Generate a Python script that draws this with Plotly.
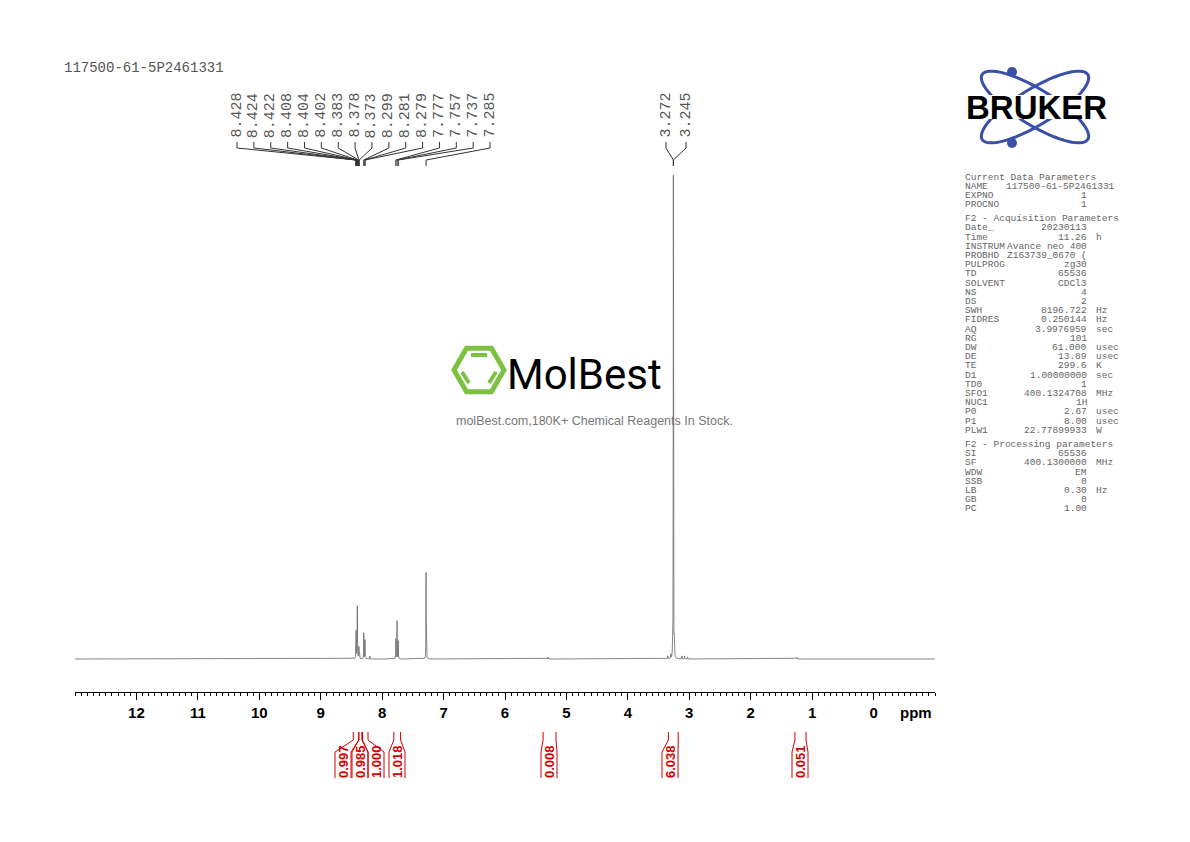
import numpy as np
import plotly.graph_objects as go

W, H = 1190, 842
title_text = "117500-61-5P2461331"

# spectrum lines: ppm and height (pixel-ish intensity units)
line_ppm = [8.428, 8.424, 8.422, 8.408, 8.404, 8.402, 8.383, 8.378, 8.373,
            8.299, 8.281, 8.279, 8.20, 7.777, 7.757, 7.737, 7.285,
            5.30, 3.35, 3.30, 3.272, 3.259, 3.245, 3.12, 3.08, 3.03, 1.25]
line_h = [14, 16, 16, 20, 36, 24, 8, 10, 7,
          26, 12, 12, 3, 20, 38, 18, 87,
          2, 3, 4, 14, 486, 16, 3, 3, 2, 2]
line_w = [0.002]*len(line_ppm)

peak_labels = ["8.428", "8.424", "8.422", "8.408", "8.404", "8.402", "8.383", "8.378",
               "8.373", "8.299", "8.281", "8.279", "7.777", "7.757", "7.737", "7.285"]
peak_labels2 = ["3.272", "3.245"]

integ_start = [8.47, 8.38, 8.32, 7.81, 5.38, 3.34, 1.28]
integ_end = [8.38, 8.33, 8.23, 7.70, 5.17, 3.18, 1.10]
integ_vals = ["0.997", "0.985", "1.000", "1.018", "0.008", "6.038", "0.051"]
integ_label_px = [343, 360, 376, 397, 549, 670, 800]

x_ticks = [12, 11, 10, 9, 8, 7, 6, 5, 4, 3, 2, 1, 0]

params = [
    ("Current Data Parameters", "", ""),
    ("NAME", "117500-61-5P2461331", ""),
    ("EXPNO", "1", ""),
    ("PROCNO", "1", ""),
    None,
    ("F2 - Acquisition Parameters", "", ""),
    ("Date_", "20230113", ""),
    ("Time", "11.26", "h"),
    ("INSTRUM", "Avance neo 400", ""),
    ("PROBHD", "Z163739_0670 (", ""),
    ("PULPROG", "zg30", ""),
    ("TD", "65536", ""),
    ("SOLVENT", "CDCl3", ""),
    ("NS", "4", ""),
    ("DS", "2", ""),
    ("SWH", "8196.722", "Hz"),
    ("FIDRES", "0.250144", "Hz"),
    ("AQ", "3.9976959", "sec"),
    ("RG", "101", ""),
    ("DW", "61.000", "usec"),
    ("DE", "13.89", "usec"),
    ("TE", "299.6", "K"),
    ("D1", "1.00000000", "sec"),
    ("TD0", "1", ""),
    ("SFO1", "400.1324708", "MHz"),
    ("NUC1", "1H", ""),
    ("P0", "2.67", "usec"),
    ("P1", "8.00", "usec"),
    ("PLW1", "22.77899933", "W"),
    None,
    ("F2 - Processing parameters", "", ""),
    ("SI", "65536", ""),
    ("SF", "400.1300000", "MHz"),
    ("WDW", "EM", ""),
    ("SSB", "0", ""),
    ("LB", "0.30", "Hz"),
    ("GB", "0", ""),
    ("PC", "1.00", ""),
]

# ---- geometry helpers (page body has an 8px offset)
OFF = 8
X0, X1 = 75, 935
PPM_L, PPM_R = 13.0, -1.0
def ppm2px(p):
    return X0 + (PPM_L - p) / (PPM_L - PPM_R) * (X1 - X0)
def px(x):
    return (x - OFF) / W
def py(y):
    return 1 - (y - OFF) / H

x = np.linspace(PPM_L, PPM_R, 40001)
y = np.zeros_like(x)
for p, h, w in zip(line_ppm, line_h, line_w):
    y += h / (1 + ((x - p) / w) ** 2)

fig = go.Figure()
fig.add_trace(go.Scatter(x=x, y=y, mode="lines", line=dict(color="#666666", width=0.8),
                         hoverinfo="skip", showlegend=False))

TOP, BOT = 170, 692
fig.update_layout(
    width=W, height=H, margin=dict(l=0, r=0, t=0, b=0),
    paper_bgcolor="white", plot_bgcolor="white", showlegend=False,
    xaxis=dict(domain=[px(X0), px(X1)], range=[PPM_L, PPM_R], showgrid=False,
               zeroline=False, showline=True, linecolor="black", linewidth=1,
               ticks="outside", ticklen=7, tickcolor="black", tickvals=x_ticks,
               tickfont=dict(family="Liberation Sans, Arial", size=15, color="black", weight="bold"),
               minor=dict(dtick=0.1, ticks="outside", ticklen=3, tickcolor="black"),
               anchor="y", position=0),
    yaxis=dict(domain=[py(BOT), py(TOP)], range=[-(BOT - 659), 659 - TOP], visible=False),
)

shapes = []
ann = []
ann.append(dict(xref="paper", yref="paper", x=px(X1 - 37), y=py(712), text="<b>ppm</b>",
                showarrow=False, font=dict(family="Liberation Sans", size=15, color="black"),
                xanchor="left", yanchor="middle"))
ann.append(dict(xref="paper", yref="paper", x=px(62), y=py(68), text=title_text, showarrow=False,
                font=dict(family="Liberation Mono", size=14, color="#555"), xanchor="left", yanchor="middle"))

lf = dict(family="Liberation Mono", size=15, color="#555")
label_px = [237 + i * 16.87 for i in range(len(peak_labels))]
for lab, lx in zip(peak_labels, label_px):
    tx = ppm2px(float(lab))
    ann.append(dict(xref="paper", yref="paper", x=px(lx), y=py(140), text=lab, textangle=-90,
                    showarrow=False, xanchor="center", yanchor="bottom", font=lf))
    shapes.append(dict(type="path", xref="paper", yref="paper",
                       path=f"M {px(lx)} {py(142)} L {px(lx)} {py(148)} L {px(tx)} {py(160)} L {px(tx)} {py(166)}",
                       line=dict(color="#333", width=1)))
for lab, lx in zip(peak_labels2, [666, 686]):
    tx = ppm2px(3.259)
    ann.append(dict(xref="paper", yref="paper", x=px(lx), y=py(140), text=lab, textangle=-90,
                    showarrow=False, xanchor="center", yanchor="bottom", font=lf))
    shapes.append(dict(type="path", xref="paper", yref="paper",
                       path=f"M {px(lx)} {py(142)} L {px(lx)} {py(148)} L {px(tx)} {py(160)} L {px(tx)} {py(166)}",
                       line=dict(color="#333", width=1)))

# integrals
red = "#d40000"
for s, e, v, lx in zip(integ_start, integ_end, integ_vals, integ_label_px):
    a, b = ppm2px(s), ppm2px(e)
    for edge, bx in ((a, lx - 8), (b, lx + 8)):
        shapes.append(dict(type="path", xref="paper", yref="paper",
                           path=f"M {px(edge)} {py(732)} L {px(edge)} {py(740)} L {px(bx)} {py(752)} L {px(bx)} {py(778)}",
                           line=dict(color=red, width=1)))
    ann.append(dict(xref="paper", yref="paper", x=px(lx), y=py(762), text=f"<b>{v}</b>", textangle=-90,
                    showarrow=False, xanchor="center", yanchor="middle",
                    font=dict(family="Liberation Sans", size=13, color=red)))

# MolBest watermark
cx, cy, r = 479, 370, 25
hexp = " ".join(("M" if i == 0 else "L") + f" {px(cx + r*np.cos(np.pi/3*i))} {py(cy + r*np.sin(np.pi/3*i))}" for i in range(6)) + " Z"
shapes.append(dict(type="path", xref="paper", yref="paper", path=hexp, line=dict(color="#7dc142", width=5)))
shapes.append(dict(type="line", xref="paper", yref="paper", x0=px(cx-8), x1=px(cx+8), y0=py(cy-15), y1=py(cy-15),
                   line=dict(color="#7dc142", width=4)))
shapes.append(dict(type="line", xref="paper", yref="paper", x0=px(cx-17), x1=px(cx-10), y0=py(cy+2), y1=py(cy+13),
                   line=dict(color="#7dc142", width=4)))
shapes.append(dict(type="line", xref="paper", yref="paper", x0=px(cx+17), x1=px(cx+10), y0=py(cy+2), y1=py(cy+13),
                   line=dict(color="#7dc142", width=4)))
ann.append(dict(xref="paper", yref="paper", x=px(584), y=py(374), text="MolBest", showarrow=False,
                xanchor="center", yanchor="middle",
                font=dict(family="Roboto", size=42, color="black")))
ann.append(dict(xref="paper", yref="paper", x=px(594), y=py(421), text="molBest.com,180K+ Chemical Reagents In Stock.",
                showarrow=False, xanchor="center", yanchor="middle",
                font=dict(family="Liberation Sans", size=12.5, color="#777")))

# Bruker logo
bcx, bcy = 1035, 107
t = np.linspace(0, 2*np.pi, 80)
for ang in (0.55, -0.55):
    ex = 62*np.cos(t); ey = 18*np.sin(t)
    xs = bcx + ex*np.cos(ang) - ey*np.sin(ang)
    ys = bcy + ex*np.sin(ang) + ey*np.cos(ang)
    path = "M " + " L ".join(f"{px(a)} {py(b)}" for a, b in zip(xs, ys)) + " Z"
    shapes.append(dict(type="path", xref="paper", yref="paper", path=path, line=dict(color="#3a4fa8", width=3)))
for (ccx, ccy) in ((1012, 72), (1012, 143)):
    shapes.append(dict(type="circle", xref="paper", yref="paper", x0=px(ccx-5), x1=px(ccx+5),
                       y0=py(ccy-5), y1=py(ccy+5), fillcolor="#3a4fa8", line=dict(width=0)))
shapes.append(dict(type="rect", xref="paper", yref="paper", x0=px(958), x1=px(1115), y0=py(95), y1=py(119),
                   fillcolor="white", line=dict(width=0)))
ann.append(dict(xref="paper", yref="paper", x=px(1036), y=py(107), text="<b>BRUKER</b>", showarrow=False,
                xanchor="center", yanchor="middle",
                font=dict(family="Liberation Sans", size=33, color="black")))

# parameter panel
yy = 177
pf = dict(family="Liberation Mono", size=9.5, color="#666")
for row in params:
    if row is None:
        yy += 5
        continue
    name, val, unit = row
    ann.append(dict(xref="paper", yref="paper", x=px(963), y=py(yy), text=name, showarrow=False,
                    xanchor="left", yanchor="middle", font=pf))
    if val:
        ann.append(dict(xref="paper", yref="paper", x=px(1089 if val != "117500-61-5P2461331" else 1117),
                        y=py(yy), text=val, showarrow=False, xanchor="right", yanchor="middle", font=pf))
    if unit:
        ann.append(dict(xref="paper", yref="paper", x=px(1094), y=py(yy), text=unit, showarrow=False,
                        xanchor="left", yanchor="middle", font=pf))
    yy += 9.2

fig.update_layout(shapes=shapes, annotations=ann)
fig.write_html("out.html")
